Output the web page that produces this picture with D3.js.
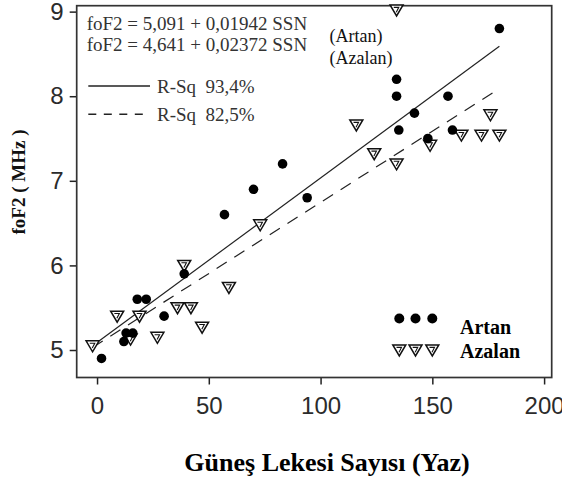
<!DOCTYPE html>
<html>
<head>
<meta charset="utf-8">
<script src="https://cdn.jsdelivr.net/npm/d3@7"></script>
<style>
  body { margin: 0; background: #fff; }
  svg { display: block; }
  .tick text { font-family: "Liberation Sans", Arial, sans-serif; font-size: 24px; fill: #2b2b2b; }
  .tick line { stroke: #222; stroke-width: 1.5; }
  .serif { font-family: "Liberation Serif", "Times New Roman", serif; white-space: pre; }
</style>
</head>
<body>
<svg id="chart"></svg>
<script>
'use strict';

// Artan (increasing phase): sunspot number, foF2 (MHz)
var artanSSN  = [2, 12, 13, 16, 18, 22, 30, 39, 57, 70, 83, 94, 134, 134, 135, 142, 148, 157, 159, 180];
var artanFoF2 = [4.9, 5.1, 5.2, 5.2, 5.6, 5.6, 5.4, 5.9, 6.6, 6.9, 7.2, 6.8, 8.2, 8.0, 7.6, 7.8, 7.5, 8.0, 7.6, 8.8];

// Azalan (decreasing phase)
var azalanSSN  = [-2, 9, 15, 19, 27, 36, 39, 42, 47, 59, 73, 116, 124, 134, 134, 149, 163, 172, 176, 180];
var azalanFoF2 = [5.05, 5.4, 5.13, 5.4, 5.15, 5.5, 6.0, 5.5, 5.27, 5.74, 6.48, 7.66, 7.32, 7.2, 9.02, 7.42, 7.54, 7.54, 7.78, 7.54];

// fitted lines as drawn in the picture (end points)
var artanFitSSN  = [-2, 180];
var artanFitFoF2 = [5.05, 8.59];
var azalanFitSSN  = [-2, 180];
var azalanFitFoF2 = [5.03, 8.09];

var xTicks = [0, 50, 100, 150, 200];
var yTicks = [5, 6, 7, 8, 9];

var equations = ['foF2 = 5,091 + 0,01942 SSN', 'foF2 = 4,641 + 0,02372 SSN'];
var seriesNames = ['Artan', 'Azalan'];
var rSquared = ['R-Sq  93,4%', 'R-Sq  82,5%'];

var W = 562, H = 478,
  PLOT = { left: 76.7, top: 5.7, right: 551.7, bottom: 377.5 };

var svg = d3.select('#chart')
  .attr('width', W)
  .attr('height', H);

var xScale = d3.scaleLinear()
  .domain([-9.1, 203.4])
  .range([PLOT.left, PLOT.right]);

var yScale = d3.scaleLinear()
  .domain([4.675, 9.07])
  .range([PLOT.bottom, PLOT.top]);

// axes
svg.append('g')
  .attr('class', 'x axis')
  .attr('transform', 'translate(0,' + PLOT.bottom + ')')
  .call(d3.axisBottom(xScale).tickValues(xTicks).tickSize(7).tickPadding(12).tickFormat(d3.format('d')))
  .call(function(g) { g.select('.domain').remove(); });

svg.append('g')
  .attr('class', 'y axis')
  .attr('transform', 'translate(' + PLOT.left + ',0)')
  .call(d3.axisLeft(yScale).tickValues(yTicks).tickSize(7).tickPadding(6).tickFormat(d3.format('d')))
  .call(function(g) { g.select('.domain').remove(); });

// frame
svg.append('rect')
  .attr('x', PLOT.left)
  .attr('y', PLOT.top)
  .attr('width', PLOT.right - PLOT.left)
  .attr('height', PLOT.bottom - PLOT.top)
  .attr('fill', 'none')
  .attr('stroke', '#333')
  .attr('stroke-width', 1.7);

// fit lines
var line = d3.line()
  .x(function(d) { return xScale(d[0]); })
  .y(function(d) { return yScale(d[1]); });

svg.append('path')
  .datum(d3.zip(artanFitSSN, artanFitFoF2))
  .attr('d', line)
  .attr('fill', 'none')
  .attr('stroke', '#222')
  .attr('stroke-width', 1.2);

svg.append('path')
  .datum(d3.zip(azalanFitSSN, azalanFitFoF2))
  .attr('d', line)
  .attr('fill', 'none')
  .attr('stroke', '#222')
  .attr('stroke-width', 1.2)
  .attr('stroke-dasharray', '12,9');

// markers
function triangle(sel) {
  sel.append('path')
    .attr('d', 'M-6.5,-5L6.5,-5L0,6Z')
    .attr('fill', '#fff')
    .attr('stroke', '#111')
    .attr('stroke-width', 1.5);
  sel.append('path')
    .attr('d', 'M-2.8,-2.6L2.2,-2.6L-0.3,2.2')
    .attr('fill', 'none')
    .attr('stroke', '#111')
    .attr('stroke-width', 1.1);
}

svg.append('g')
  .selectAll('g')
  .data(d3.zip(azalanSSN, azalanFoF2))
  .enter()
  .append('g')
  .attr('transform', function(d) { return 'translate(' + xScale(d[0]) + ',' + yScale(d[1]) + ')'; })
  .call(triangle);

svg.append('g')
  .selectAll('circle')
  .data(d3.zip(artanSSN, artanFoF2))
  .enter()
  .append('circle')
  .attr('cx', function(d) { return xScale(d[0]); })
  .attr('cy', function(d) { return yScale(d[1]); })
  .attr('r', 4.8)
  .attr('fill', '#000');

// top-left legend: equations and R-Sq
svg.selectAll('.equation')
  .data(equations)
  .enter()
  .append('text')
  .attr('class', 'equation serif')
  .attr('x', 86.7)
  .attr('y', function(d, i) { return 29.5 + i * 21; })
  .attr('font-size', 19)
  .attr('fill', '#333')
  .text(function(d) { return d; });

svg.selectAll('.series-note')
  .data(seriesNames)
  .enter()
  .append('text')
  .attr('class', 'series-note serif')
  .attr('x', 329.5)
  .attr('y', function(d, i) { return 42 + i * 21.5; })
  .attr('font-size', 18)
  .attr('fill', '#111')
  .text(function(d) { return '(' + d + ')'; });

[0, 1].forEach(function(i) {
  var yy = 86 + i * 28.3;
  svg.append('line')
    .attr('x1', 88.3)
    .attr('x2', 150)
    .attr('y1', yy)
    .attr('y2', yy)
    .attr('stroke', '#222')
    .attr('stroke-width', 1.4)
    .attr('stroke-dasharray', i ? '8,7.5' : null);
  svg.append('text')
    .attr('class', 'serif')
    .attr('x', 157)
    .attr('y', yy + 7)
    .attr('font-size', 19)
    .attr('fill', '#333')
    .text(rSquared[i]);
});

// bottom-right legend
var legendX = [399.3, 415.5, 432.3];

svg.append('g')
  .selectAll('circle')
  .data(legendX)
  .enter()
  .append('circle')
  .attr('cx', function(d) { return d; })
  .attr('cy', 318.5)
  .attr('r', 5)
  .attr('fill', '#000');

svg.append('g')
  .selectAll('g')
  .data(legendX)
  .enter()
  .append('g')
  .attr('transform', function(d) { return 'translate(' + d + ',350)'; })
  .call(triangle);

seriesNames.forEach(function(name, i) {
  svg.append('text')
    .attr('class', 'serif')
    .attr('x', 460)
    .attr('y', 333.5 + i * 24)
    .attr('font-size', 20)
    .attr('font-weight', 'bold')
    .attr('fill', '#000')
    .text(name);
});

// axis titles
svg.append('text')
  .attr('class', 'serif')
  .attr('transform', 'translate(25,182) rotate(-90)')
  .attr('text-anchor', 'middle')
  .attr('font-size', 19)
  .attr('font-weight', 'bold')
  .attr('fill', '#111')
  .text('foF2 ( MHz )');

svg.append('text')
  .attr('class', 'serif')
  .attr('x', 327)
  .attr('y', 471)
  .attr('text-anchor', 'middle')
  .attr('font-size', 26)
  .attr('font-weight', 'bold')
  .attr('fill', '#000')
  .text('Güneş Lekesi Sayısı (Yaz)');
</script>
</body>
</html>
